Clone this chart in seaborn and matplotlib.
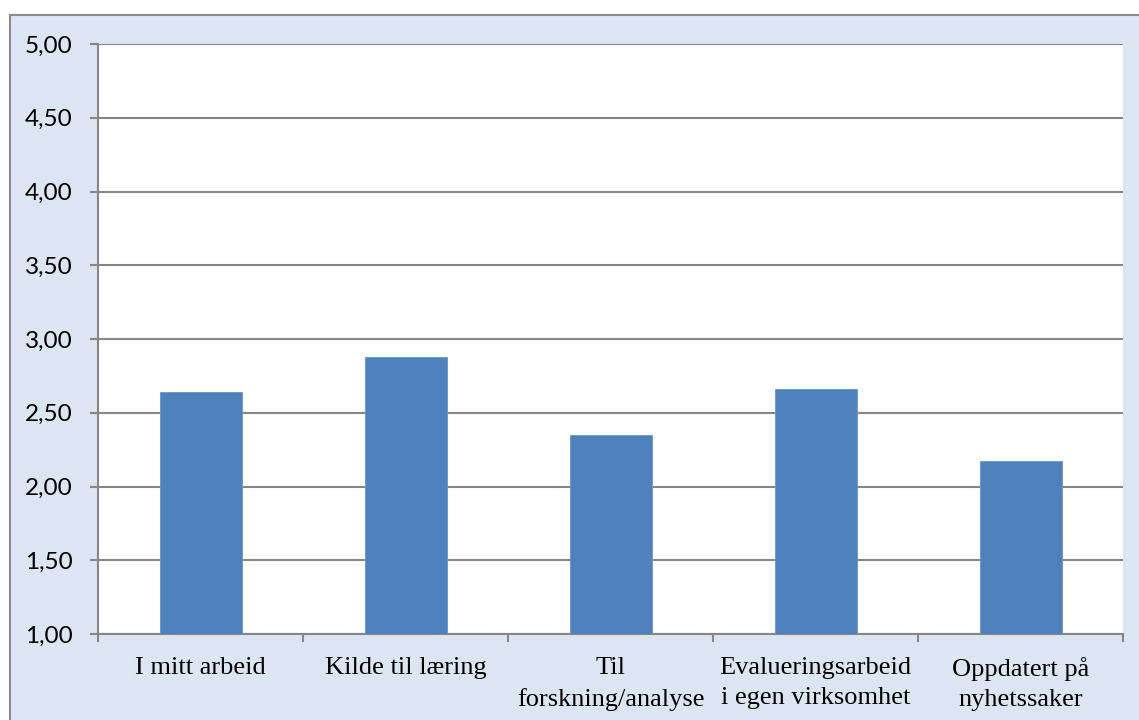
import matplotlib
matplotlib.use("Agg")
import matplotlib.pyplot as plt
from matplotlib.patches import Rectangle
from matplotlib.ticker import FixedLocator, FuncFormatter
import seaborn as sns
import pandas as pd

categories = [
    "I mitt arbeid",
    "Kilde til læring",
    "Til\nforskning/analyse",
    "Evalueringsarbeid\ni egen virksomhet",
    "Oppdatert på\nnyhetssaker",
]
values = [2.64, 2.88, 2.35, 2.66, 2.17]
y_ticks = [1.0, 1.5, 2.0, 2.5, 3.0, 3.5, 4.0, 4.5, 5.0]

bar_color = "#4F81BD"
panel_color = "#DCE6F2"
grid_color = "#868686"

sns.set_theme(style="white")

fig = plt.figure(figsize=(11.39, 7.2), dpi=100)
fig.patch.set_facecolor("white")

# chart panel behind the axes
panel = Rectangle((10 / 1139, -0.05), 1.1, 1 - 15 / 720 + 0.05,
                  transform=fig.transFigure, facecolor=panel_color,
                  edgecolor="#8C8C8C", linewidth=1.5, zorder=-10)
fig.add_artist(panel)

ax = fig.add_axes([98 / 1139, 1 - 634 / 720, (1123 - 98) / 1139, (634 - 44) / 720])
ax.set_zorder(1)
ax.set_facecolor("white")

df = pd.DataFrame({"kategori": categories, "verdi": values})
sns.barplot(data=df, x="kategori", y="verdi", color=bar_color, saturation=1,
            width=0.4, ax=ax, zorder=3)
for p in ax.patches:
    p.set_edgecolor("#6A96CC")
    p.set_linewidth(0.6)

ax.set_xlim(-0.5, len(categories) - 0.5)
ax.set_ylim(1.0, 5.0)
ax.set_xlabel("")
ax.set_ylabel("")

ax.yaxis.set_major_locator(FixedLocator(y_ticks))
ax.yaxis.set_major_formatter(FuncFormatter(lambda v, _: f"{v:.2f}".replace(".", ",")))
ax.grid(axis="y", color=grid_color, linewidth=1.5, zorder=1)
ax.set_axisbelow(True)

for side in ("top", "right"):
    ax.spines[side].set_visible(False)
for side in ("left", "bottom"):
    ax.spines[side].set_color(grid_color)
    ax.spines[side].set_linewidth(1.5)

# category labels centred, tick marks at category boundaries
ax.set_xticks(range(len(categories)))
ax.set_xticklabels(categories, family="Liberation Serif", fontsize=19,
                   color="black", linespacing=1.5)
ax.xaxis.set_minor_locator(FixedLocator([i - 0.5 for i in range(len(categories) + 1)]))
ax.tick_params(axis="x", which="major", length=0, pad=16.5)
ax.tick_params(axis="x", which="minor", length=5.5, width=1.5, color=grid_color,
               direction="out", bottom=True)
ax.tick_params(axis="y", length=5.5, width=1.5, color=grid_color, left=True,
               direction="out", pad=13, labelsize=17.5)
for lab in ax.get_yticklabels():
    lab.set_family(["Lato", "DejaVu Sans"])
    lab.set_color("black")

fig.savefig("out.png", dpi=100, facecolor=fig.get_facecolor())
